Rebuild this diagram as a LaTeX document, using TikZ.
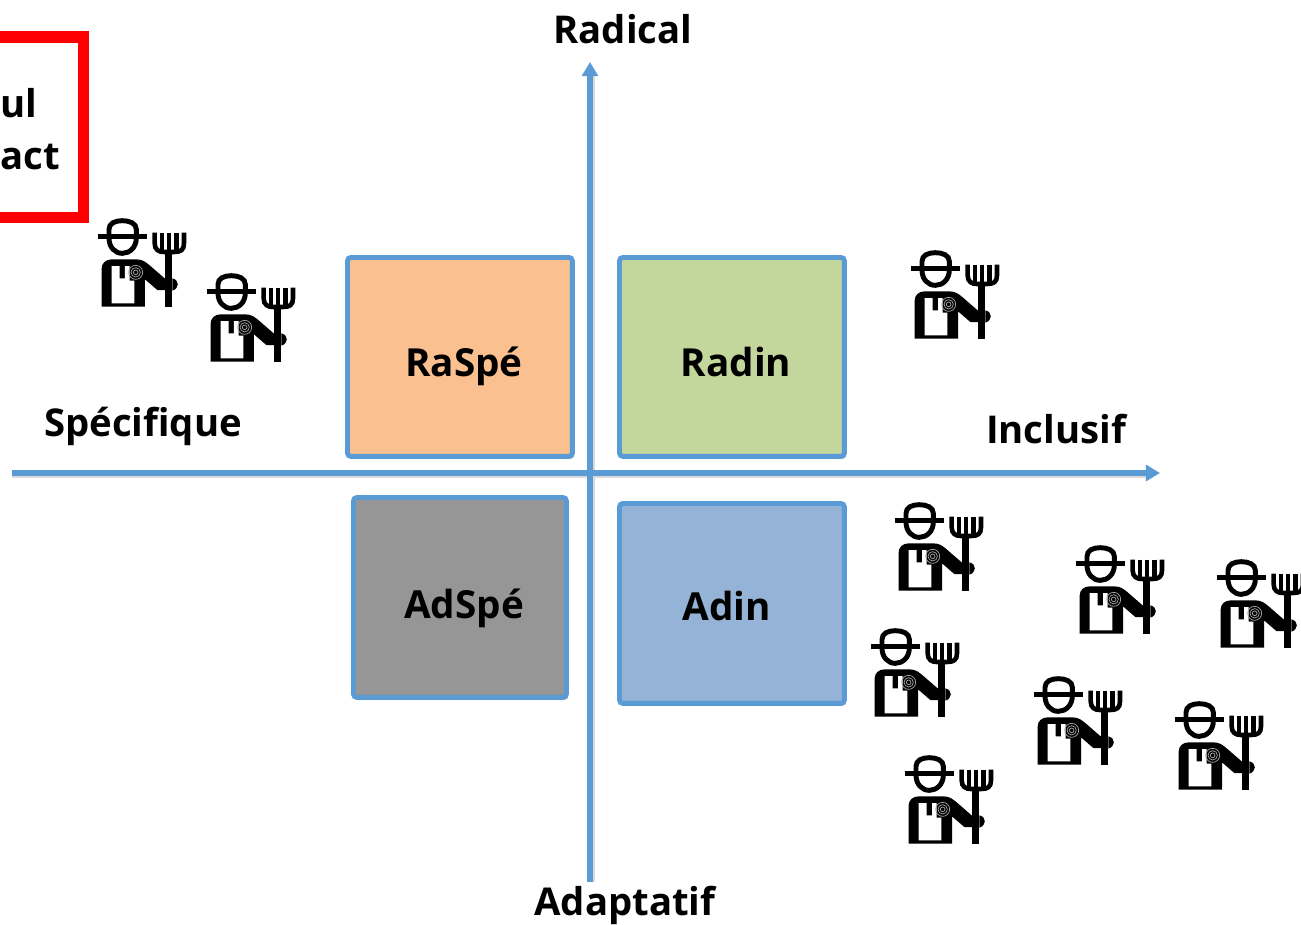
\documentclass[tikz,border=0pt]{standalone}
\usepackage{fontspec}
\setmainfont{Open Sans}
\usetikzlibrary{arrows.meta}
\usetikzlibrary{shadows}
\definecolor{axisblue}{HTML}{5B9BD5}
\definecolor{raspecolor}{HTML}{FAC090}
\definecolor{radincolor}{HTML}{C3D69B}
\definecolor{adspecolor}{HTML}{969696}
\definecolor{adincolor}{HTML}{95B3D7}
\tikzset{
  quadrant/.style = {draw=axisblue,line width=2.8pt,rounded corners=2pt,anchor=north west,inner sep=0pt,
    drop shadow={shadow xshift=1pt,shadow yshift=-1.5pt,opacity=0.3}},
  quadlabel/.style = {font=\fontsize{22}{26}\selectfont\bfseries,text=black,inner sep=0pt,anchor=base},
  axislabel/.style = {font=\fontsize{21.8}{26}\selectfont\bfseries,text=black,inner sep=0pt,anchor=base},
  axisline/.style = {draw=axisblue,line width=3pt},
  farmer/.pic = {
    % hat
    \draw[line width=2.8pt] (26,80) -- (174,80);
    \draw[line width=2.8pt] (60,80) -- (60,58) .. controls (60,40) and (78,32) .. (100,32) .. controls (122,32) and (142,40) .. (142,58) -- (142,80);
    % head
    \draw[line width=2.8pt] (60,84) .. controls (60,112) and (78,130) .. (100,130) .. controls (122,130) and (142,112) .. (142,84);
    % body
    \fill (38,290) -- (38,175) .. controls (38,160) and (50,148) .. (68,148) -- (142,148)
      .. controls (160,148) and (170,156) .. (182,166) -- (228,206) -- (228,240) -- (205,240)
      -- (168,208) -- (168,290) -- cycle;
    \fill[white] (68,168) -- (92,168) -- (92,205) -- (108,205) -- (108,168) -- (122,168) -- (122,212)
      -- (136,212) -- (136,280) -- (68,280) -- cycle;
    \fill (250,205) .. controls (272,210) and (272,235) .. (250,242) -- cycle;
    % fork
    \fill (228,125) rectangle (250,290);
    \draw[line width=2.6pt] (197,68) -- (197,100) .. controls (197,120) and (210,126) .. (225,126) -- (255,126) .. controls (275,126) and (285,120) .. (285,100) -- (285,68);
    \draw[line width=2.6pt] (219,68) -- (219,120);
    \draw[line width=2.6pt] (240,68) -- (240,120);
    \draw[line width=2.6pt] (263,68) -- (263,120);
    % mark on the chest
    \draw[gray!70,line width=0.4pt] (140,187) circle (7);
    \draw[gray!70,line width=0.4pt] (140,187) circle (14);
    \draw[gray!70,line width=0.4pt] (140,187) circle (21);
  }
}
\begin{document}
\begin{tikzpicture}[x=0.02cm,y=-0.02cm]
\useasboundingbox (0,0) rectangle (1301,924);

% quadrants
\node[quadrant,fill=raspecolor,minimum width=4.50cm,minimum height=3.98cm] (raspe) at (345,255) {};
\node[quadrant,fill=radincolor,minimum width=4.50cm,minimum height=3.98cm] (radin) at (617,255) {};
\node[quadrant,fill=adspecolor,minimum width=4.26cm,minimum height=4.00cm] (adspe) at (351,495) {};
\node[quadrant,fill=adincolor,minimum width=4.50cm,minimum height=4.00cm] (adin) at (617,501) {};

\node[quadlabel] (raspe_text) at (464,376) {RaSpé};
\node[quadlabel] (radin_text) at (736,376) {Radin};
\node[quadlabel] (adspe_text) at (464,618) {AdSpé};
\node[quadlabel] (adin_text) at (727,620) {Adin};

% axes
\coordinate (h_1) at (12,473);
\coordinate (h_2) at (1160,473);
\coordinate (v_1) at (590,882);
\coordinate (v_2) at (590,62);
\draw[gray!30,line width=2.8pt] (12,476) -- (1150,476);
\draw[gray!30,line width=2.8pt] (593,882) -- (593,75);
\draw[axisline,-{Triangle[width=9pt,length=8pt]}] (h_1) -- (h_2);
\draw[axisline,-{Triangle[width=9pt,length=8pt]}] (v_1) -- (v_2);

\node[axislabel] (radical) at (623,43) {Radical};
\node[axislabel] (adaptatif) at (625,915) {Adaptatif};
\node[axislabel] (specifique) at (143,436) {Spécifique};
\node[axislabel] (inclusif) at (1056,443) {Inclusif};

% red box
\draw[red,line width=6.5pt] (-20,37) -- (83.5,37) -- (83.5,217.5) -- (-20,217.5);
\node[axislabel,anchor=base west] (box_1) at (0,117) {ul};
\node[axislabel,anchor=base east] (box_2) at (60,169) {act};

% farmers
\foreach \px/\py in {98/220,207/275,911/252,895/504,1076/547,1217/561,871/630,1034/678,1175/703,905/757}
  \pic[scale=0.3333] at (\px-9,\py-10) {farmer};

\end{tikzpicture}
\end{document}
